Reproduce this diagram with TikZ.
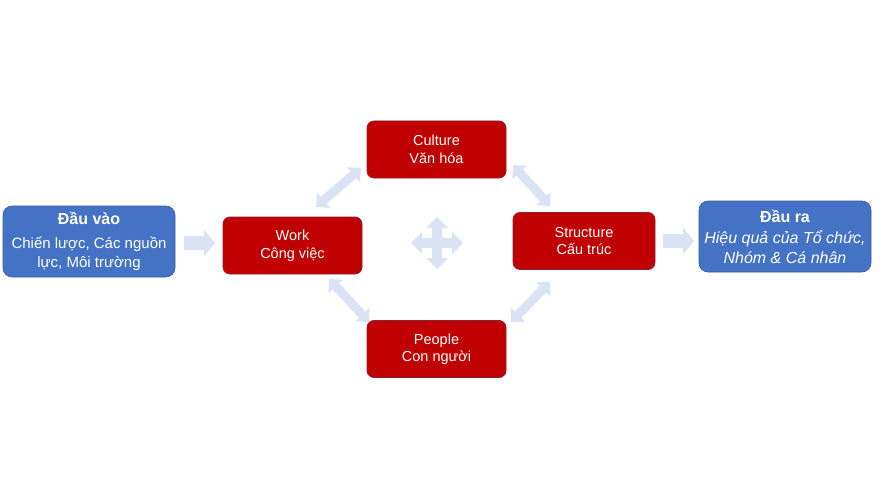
\documentclass[tikz,border=0pt]{standalone}
\usepackage{fontspec}
\setmainfont{Liberation Sans}
\usetikzlibrary{arrows.meta}
\definecolor{boxblue}{HTML}{4472C4}
\definecolor{boxred}{HTML}{C00000}
\definecolor{redline}{HTML}{8B2035}
\definecolor{arrowblue}{HTML}{DAE3F3}
\begin{document}
\begin{tikzpicture}[x=1pt,y=-1pt,
  bluebox/.style={fill=boxblue,draw=boxblue!80!black,line width=0.6pt,rounded corners=9pt,text=white,align=center,inner sep=0pt,minimum width=172pt,minimum height=71pt},
  redbox/.style={fill=boxred,draw=redline,line width=0.8pt,rounded corners=7pt,text=white,align=center,inner sep=0pt,minimum width=139pt,minimum height=57pt,font=\fontsize{14.5}{17.5}\selectfont},
  flowarrow/.style={draw=arrowblue,line width=14pt,-{Triangle[width=26pt,length=11pt]}},
  twoway/.style={draw=arrowblue,line width=9pt,{Triangle[width=19pt,length=10pt]}-{Triangle[width=19pt,length=10pt]}}
]
\useasboundingbox (0,0) rectangle (880,500);
\fill[white] (0,0) rectangle (880,500);

\node[bluebox,font=\fontsize{15}{19}\selectfont] (in) at (89,241.5)
  {{\fontsize{16}{19}\selectfont\bfseries Đầu vào}\\[5pt]
   Chiến lược, Các nguồn\\
   lực, Môi trường};
\node[bluebox,font=\fontsize{16}{20}\selectfont] (out) at (785,236.5)
  {{\bfseries Đầu ra}\\[1pt]
   {\itshape Hiệu quả của Tổ chức,}\\
   {\itshape Nhóm \& Cá nhân}};

\node[redbox] (work) at (292.5,245.5) {Work\\Công việc};
\node[redbox] (culture) at (436.5,149.5) {Culture\\Văn hóa};
\node[redbox,minimum width=142pt] (structure) at (584,241) {Structure\\Cấu trúc};
\node[redbox] (people) at (436.5,349) {People\\Con người};

\coordinate (a1) at (184,243);
\coordinate (a2) at (215,243);
\coordinate (b1) at (663,241);
\coordinate (b2) at (694,241);
\draw[flowarrow] (a1) -- (a2);
\draw[flowarrow] (b1) -- (b2);

\coordinate (wc1) at (316,207);
\coordinate (wc2) at (361,168);
\coordinate (cs1) at (513,165);
\coordinate (cs2) at (550,206);
\coordinate (sp1) at (550,282);
\coordinate (sp2) at (511,322);
\coordinate (wp1) at (329,279);
\coordinate (wp2) at (369,322);
\draw[twoway] (wc1) -- (wc2);
\draw[twoway] (cs1) -- (cs2);
\draw[twoway] (sp1) -- (sp2);
\draw[twoway] (wp1) -- (wp2);

% four-way arrow
\fill[arrowblue,shift={(437,243)}]
  (0,-26) -- (11,-15) -- (5,-15) -- (5,-5) -- (15,-5) -- (15,-11) -- (26,0)
  -- (15,11) -- (15,5) -- (5,5) -- (5,15) -- (11,15) -- (0,26)
  -- (-11,15) -- (-5,15) -- (-5,5) -- (-15,5) -- (-15,11) -- (-26,0)
  -- (-15,-11) -- (-15,-5) -- (-5,-5) -- (-5,-15) -- (-11,-15) -- cycle;
\end{tikzpicture}
\end{document}
